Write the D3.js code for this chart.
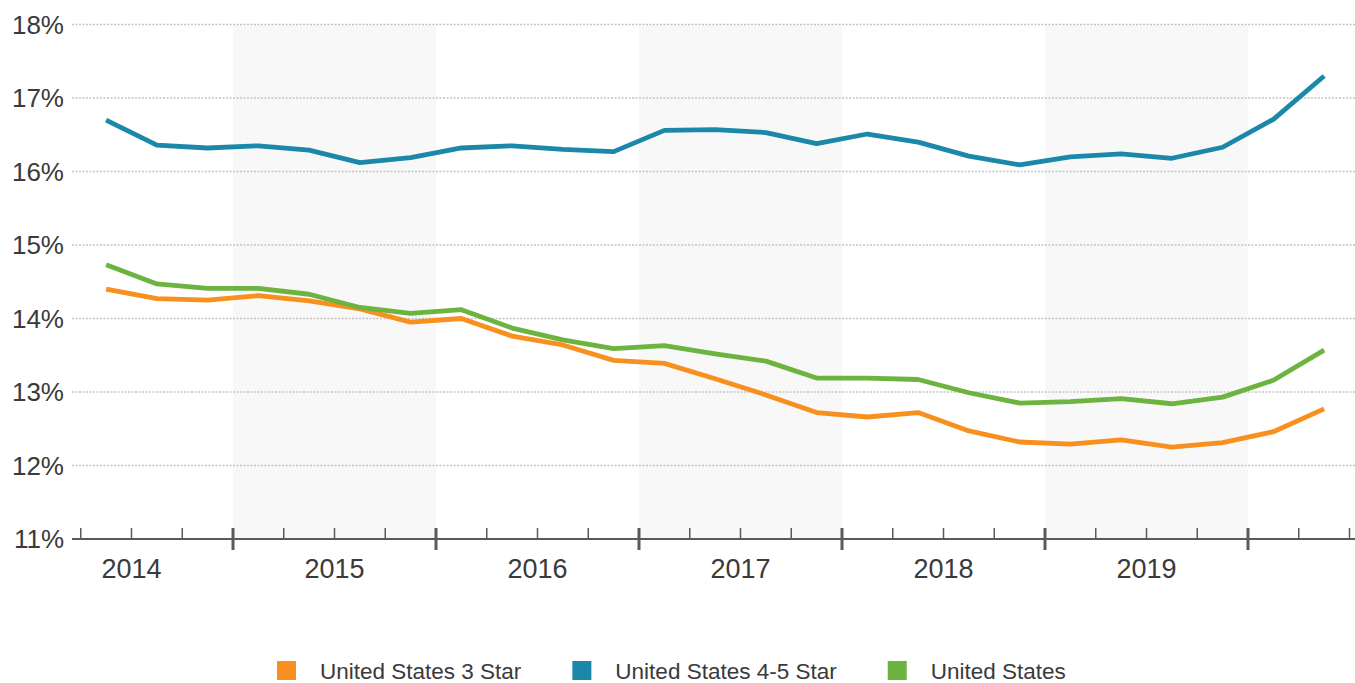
<!DOCTYPE html>
<html>
<head>
<meta charset="utf-8">
<script src="https://cdn.jsdelivr.net/npm/d3@7"></script>
<style>
  body { margin: 0; background: #fff; }
  svg { display: block; font-family: "Liberation Sans", Arial, sans-serif; }
</style>
</head>
<body>
<svg width="1355" height="683"></svg>
<script>
// quarterly points, 2014 Q2 .. 2020 Q2 (plotted at quarter centres)
var quarters = ["2014Q2","2014Q3","2014Q4","2015Q1","2015Q2","2015Q3","2015Q4",
  "2016Q1","2016Q2","2016Q3","2016Q4","2017Q1","2017Q2","2017Q3","2017Q4",
  "2018Q1","2018Q2","2018Q3","2018Q4","2019Q1","2019Q2","2019Q3","2019Q4",
  "2020Q1","2020Q2"];

var star3 = [14.40, 14.27, 14.25, 14.31, 14.24, 14.13, 13.95, 14.00, 13.76, 13.64,
  13.43, 13.39, 13.18, 12.96, 12.72, 12.66, 12.72, 12.47, 12.32, 12.29, 12.35,
  12.25, 12.31, 12.46, 12.77];
var star45 = [16.70, 16.36, 16.32, 16.35, 16.29, 16.12, 16.19, 16.32, 16.35, 16.30,
  16.27, 16.56, 16.57, 16.53, 16.38, 16.51, 16.40, 16.21, 16.09, 16.20, 16.24,
  16.18, 16.33, 16.71, 17.30];
var usAll = [14.73, 14.47, 14.41, 14.41, 14.33, 14.15, 14.07, 14.12, 13.87, 13.71,
  13.59, 13.63, 13.52, 13.42, 13.19, 13.19, 13.17, 12.99, 12.85, 12.87, 12.91,
  12.84, 12.93, 13.16, 13.57];

var years = [2014, 2015, 2016, 2017, 2018, 2019];
var shadedYears = [2015, 2017, 2019];
var yTicks = [11, 12, 13, 14, 15, 16, 17, 18];

var seriesNames = ["United States 3 Star", "United States 4-5 Star", "United States"];
var seriesColors = ["#f7901e", "#1b87a9", "#6cb33f"];
var seriesData = [star3, star45, usAll];

var svg = d3.select("svg");
var left = 72, right = 1355;

// time in fractional years
var qTime = function (q) { return +q.slice(0, 4) + (+q.slice(5) - 0.5) / 4; };

var x = d3.scaleLinear().domain([2014, 2020]).range([30, 1248]);
var y = d3.scaleLinear().domain([11, 18]).range([539, 24.5]);

// shaded alternating years
svg.append("g").selectAll("rect")
  .data(shadedYears)
  .enter().append("rect")
  .attr("x", function (d) { return x(d); })
  .attr("width", function (d) { return x(d + 1) - x(d); })
  .attr("y", y(18))
  .attr("height", y(11) - y(18))
  .attr("fill", "#f8f8f8");

// dotted gridlines
svg.append("g").selectAll("line")
  .data(yTicks.filter(function (d) { return d > 11; }))
  .enter().append("line")
  .attr("x1", left).attr("x2", right)
  .attr("y1", function (d) { return y(d); })
  .attr("y2", function (d) { return y(d); })
  .attr("stroke", "#c4c4c4")
  .attr("stroke-width", 1.3)
  .attr("stroke-dasharray", "2,1.5");

// y labels
svg.append("g").selectAll("text")
  .data(yTicks)
  .enter().append("text")
  .attr("x", 64)
  .attr("y", function (d) { return y(d); })
  .attr("dy", "0.36em")
  .attr("text-anchor", "end")
  .attr("font-size", 26)
  .attr("fill", "#3a3a3a")
  .text(function (d) { return d + "%"; });

// x axis line + ticks
var xAxis = svg.append("g");
xAxis.append("line")
  .attr("x1", left).attr("x2", right)
  .attr("y1", y(11)).attr("y2", y(11))
  .attr("stroke", "#5a5a5a").attr("stroke-width", 2);

var qTicks = d3.range(2014.25, 2020.6, 0.25).filter(function (t) {
  return x(t) >= left && x(t) <= right;
});
xAxis.selectAll(".tick")
  .data(qTicks)
  .enter().append("line")
  .attr("class", "tick")
  .attr("x1", function (d) { return x(d); })
  .attr("x2", function (d) { return x(d); })
  .attr("y1", y(11) - 11)
  .attr("y2", function (d) { return d % 1 === 0 ? y(11) + 11 : y(11); })
  .attr("stroke", "#5a5a5a")
  .attr("stroke-width", function (d) { return d % 1 === 0 ? 3 : 1.5; });

xAxis.selectAll(".yr")
  .data(years)
  .enter().append("text")
  .attr("class", "yr")
  .attr("x", function (d) { return x(d + 0.5); })
  .attr("y", 578)
  .attr("text-anchor", "middle")
  .attr("font-size", 27)
  .attr("fill", "#3a3a3a")
  .text(function (d) { return d; });

// lines
var line = d3.line()
  .x(function (d, i) { return x(qTime(quarters[i])); })
  .y(function (d) { return y(d); });

// draw order: orange, green, blue
[0, 2, 1].forEach(function (k) {
  svg.append("path")
    .datum(seriesData[k])
    .attr("fill", "none")
    .attr("stroke", seriesColors[k])
    .attr("stroke-width", 4.8)
    .attr("stroke-linejoin", "round")
    .attr("d", line);
});

// legend
var legend = svg.append("g");
var lx = 277;
seriesNames.forEach(function (name, i) {
  legend.append("rect")
    .attr("x", lx).attr("y", 661)
    .attr("width", 19).attr("height", 19)
    .attr("fill", seriesColors[i]);
  var t = legend.append("text")
    .attr("x", lx + 43).attr("y", 679)
    .attr("font-size", 22.5)
    .attr("fill", "#3a3a3a")
    .text(name);
  lx = lx + 43 + t.node().getComputedTextLength() + 51;
});
</script>
</body>
</html>
